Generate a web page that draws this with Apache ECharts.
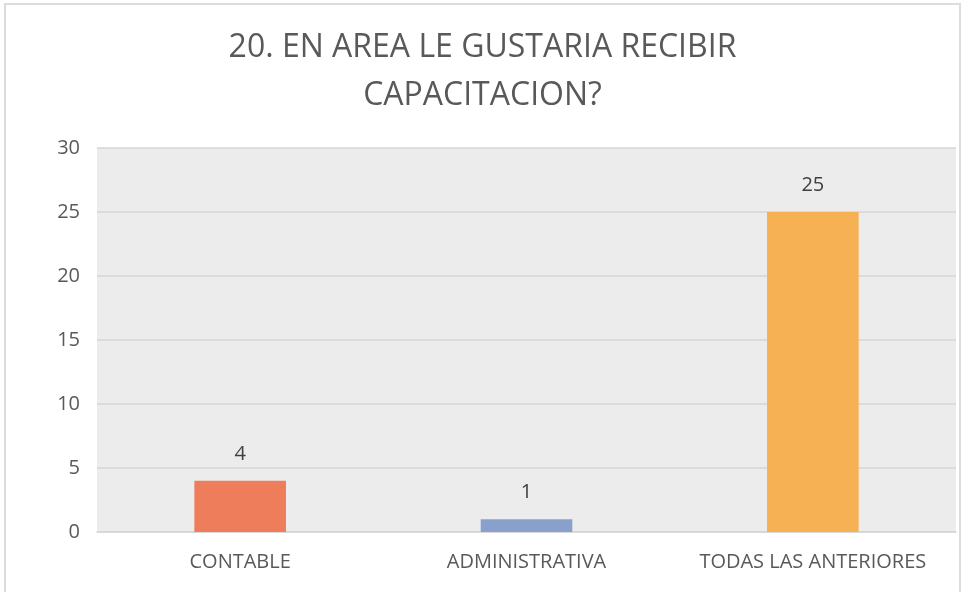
<!DOCTYPE html>
<html>
<head>
<meta charset="utf-8">
<script src="https://cdn.jsdelivr.net/npm/echarts@6/dist/echarts.min.js"></script>
<style>
  html, body { margin: 0; padding: 0; background: #fff; }
  #cadre {
    position: absolute; left: 4px; top: 3px;
    width: 953px; height: 600px;
    border: 2px solid #dcdcdc;
  }
  #chart { width: 953px; height: 600px; }
</style>
</head>
<body>
<div id="cadre"><div id="chart"></div></div>
<script>
// Données
const categories = ["CONTABLE", "ADMINISTRATIVA", "TODAS LAS ANTERIORES"];
const valeurs = [4, 1, 25];
const couleurs = ["#ee7d5c", "#8aa0cc", "#f6b155"];

const police = "Open Sans, Lato, sans-serif";

const chart = echarts.init(document.getElementById("chart"));
const option = {
    title: {
        text: "20. EN AREA LE GUSTARIA RECIBIR\nCAPACITACION?",
        left: "center",
        top: 14,
        textStyle: {
            color: "#595959",
            fontSize: 32,
            fontWeight: 400,
            fontFamily: police,
            lineHeight: 48
        }
    },
    grid: { left: 91, right: 3, top: 143, bottom: 73, backgroundColor: "#ececec", show: true, borderWidth: 0 },
    xAxis: {
        type: "category",
        data: categories,
        axisLine: { lineStyle: { color: "#d6d6d6", width: 1.5 } },
        axisTick: { show: false },
        axisLabel: { color: "#595959", fontSize: 20, fontFamily: police, margin: 20, interval: 0 }
    },
    yAxis: {
        type: "value",
        min: 0, max: 30, interval: 5,
        axisLine: { show: false },
        axisTick: { show: false },
        splitLine: { lineStyle: { color: "#d6d6d6", width: 1.5 } },
        axisLabel: { color: "#595959", fontSize: 20, fontFamily: police, margin: 17 }
    },
    series: [{
        type: "bar",
        data: valeurs.map((v, i) => ({ value: v, itemStyle: { color: couleurs[i] } })),
        barWidth: "32%",
        label: {
            show: true,
            position: "top",
            distance: 17,
            color: "#404040",
            fontSize: 20,
            fontFamily: police
        }
    }],
    animation: false
};
chart.setOption(option);
window.addEventListener("resize", () => chart.resize());
</script>
</body>
</html>
